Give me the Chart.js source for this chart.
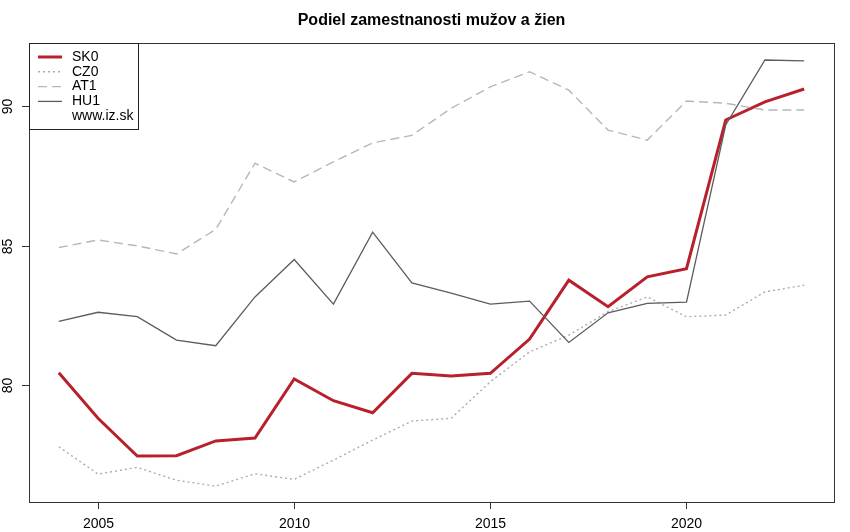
<!DOCTYPE html>
<html>
<head>
<meta charset="utf-8">
<script src="https://cdn.jsdelivr.net/npm/chart.js@4"></script>
<style>
  html, body { margin: 0; padding: 0; background: #fff; }
  #wrap { width: 850px; height: 532px; }
</style>
</head>
<body>
<div id="wrap"><canvas id="chart" width="850" height="532"></canvas></div>
<script>
const years = [2004, 2005, 2006, 2007, 2008, 2009, 2010, 2011, 2012, 2013,
               2014, 2015, 2016, 2017, 2018, 2019, 2020, 2021, 2022, 2023];
const sk0 = [80.44, 78.81, 77.46, 77.47, 78.00, 78.10, 80.22, 79.44, 79.01, 80.42,
             80.33, 80.42, 81.65, 83.76, 82.81, 83.88, 84.17, 89.50, 90.15, 90.61];
const cz0 = [77.79, 76.81, 77.05, 76.59, 76.38, 76.82, 76.62, 77.31, 78.03, 78.71,
             78.81, 80.12, 81.19, 81.79, 82.63, 83.16, 82.45, 82.51, 83.34, 83.58];
const at1 = [84.93, 85.20, 84.99, 84.70, 85.58, 87.95, 87.28, 88.00, 88.68, 88.95,
             89.92, 90.69, 91.23, 90.57, 89.14, 88.78, 90.18, 90.10, 89.86, 89.86];
const hu1 = [82.28, 82.61, 82.45, 81.61, 81.41, 83.16, 84.50, 82.90, 85.48, 83.66,
             83.30, 82.90, 83.01, 81.53, 82.59, 82.93, 82.97, 89.32, 91.65, 91.62];
const xTicks = [2005, 2010, 2015, 2020];
const yTicks = [80, 85, 90];
const chartTitle = 'Podiel zamestnanosti mužov a žien';
const sourceNote = 'www.iz.sk';

const FONT = '"Liberation Sans", Arial, sans-serif';

function points(values) {
  return years.map((yr, i) => ({ x: yr, y: values[i] }));
}

function series(label, values, color, width, dash, order) {
  return {
    label: label,
    data: points(values),
    borderColor: color,
    borderWidth: width,
    borderDash: dash,
    pointRadius: 0,
    fill: false,
    tension: 0,
    order: order
  };
}

// R-style frame, ticks, title and legend
const baseGraphics = {
  id: 'baseGraphics',
  afterDraw(chart) {
    const ctx = chart.ctx;
    const area = chart.chartArea;
    const xs = chart.scales.x;
    const ys = chart.scales.y;
    ctx.save();

    ctx.strokeStyle = '#333';
    ctx.lineWidth = 1;
    ctx.strokeRect(Math.round(area.left) + 0.5, Math.round(area.top) + 0.5,
                   Math.round(area.right - area.left), Math.round(area.bottom - area.top));

    ctx.fillStyle = '#000';
    ctx.font = '14px ' + FONT;
    ctx.textAlign = 'center';
    ctx.textBaseline = 'middle';
    xTicks.forEach(t => {
      const px = Math.round(xs.getPixelForValue(t)) + 0.5;
      ctx.beginPath();
      ctx.moveTo(px, area.bottom);
      ctx.lineTo(px, area.bottom + 7);
      ctx.stroke();
      ctx.fillText(String(t), px, area.bottom + 22);
    });
    yTicks.forEach(t => {
      const py = Math.round(ys.getPixelForValue(t)) + 0.5;
      ctx.beginPath();
      ctx.moveTo(area.left - 7, py);
      ctx.lineTo(area.left, py);
      ctx.stroke();
      ctx.save();
      ctx.translate(8, py);
      ctx.rotate(-Math.PI / 2);
      ctx.fillText(String(t), 0, 0);
      ctx.restore();
    });

    ctx.font = 'bold 16px ' + FONT;
    ctx.fillText(chartTitle, (area.left + area.right) / 2, 21);

    // legend box
    const lx = Math.round(area.left) + 0.5;
    const ly = Math.round(area.top) + 0.5;
    ctx.fillStyle = '#fff';
    ctx.fillRect(lx, ly, 109, 86);
    ctx.strokeStyle = '#222';
    ctx.strokeRect(lx, ly, 109, 86);
    ctx.font = '14px ' + FONT;
    ctx.textAlign = 'left';
    ctx.fillStyle = '#000';
    const rowH = 14.8;
    const items = chart.data.datasets;
    items.forEach((ds, i) => {
      const ry = area.top + 14 + i * rowH;
      ctx.save();
      ctx.strokeStyle = ds.borderColor;
      ctx.lineWidth = ds.borderWidth;
      ctx.setLineDash(ds.borderDash || []);
      ctx.beginPath();
      ctx.moveTo(area.left + 9, ry);
      ctx.lineTo(area.left + 33, ry);
      ctx.stroke();
      ctx.restore();
      ctx.fillText(ds.label, area.left + 43, ry);
    });
    ctx.fillText(sourceNote, area.left + 43, area.top + 14 + items.length * rowH);
    ctx.restore();
  }
};

new Chart(document.getElementById('chart'), {
  type: 'line',
  data: {
    datasets: [
      series('SK0', sk0, '#b8212b', 3, [], 4),
      series('CZ0', cz0, '#a9abb2', 1.4, [2, 3], 3),
      series('AT1', at1, '#b3b8c0', 1.4, [9, 5], 2),
      series('HU1', hu1, '#5c5c5c', 1.3, [], 1)
    ]
  },
  options: {
    responsive: false,
    animation: false,
    layout: { padding: { left: 29, right: 16, top: 43, bottom: 30 } },
    plugins: {
      legend: { display: false },
      title: { display: false },
      tooltip: { enabled: false }
    },
    scales: {
      x: { type: 'linear', display: false, min: 2003.24, max: 2023.76 },
      y: { type: 'linear', display: false, min: 75.81, max: 92.26 }
    }
  },
  plugins: [baseGraphics]
});
</script>
</body>
</html>
